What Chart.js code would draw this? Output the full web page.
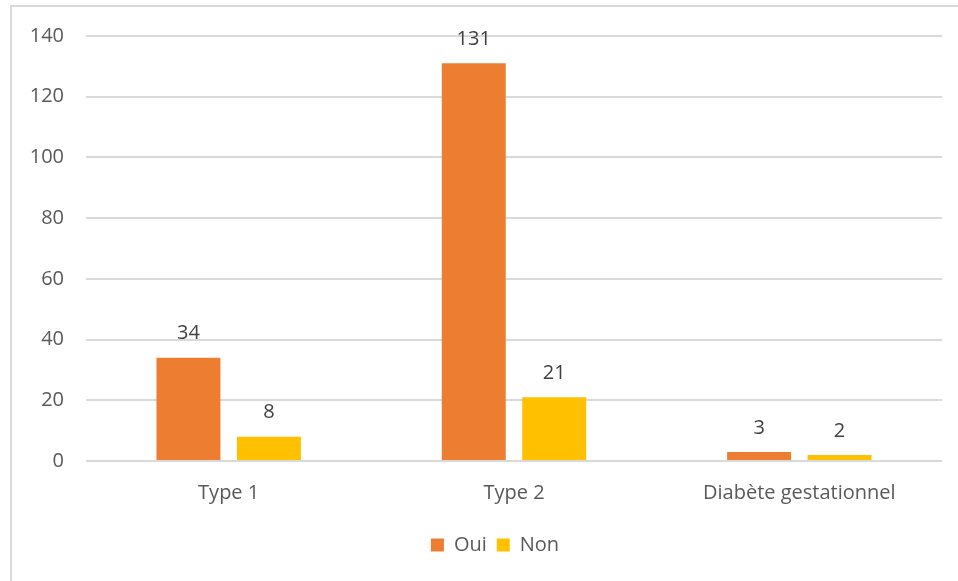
<!DOCTYPE html>
<html>
<head>
<meta charset="utf-8">
<script src="https://cdn.jsdelivr.net/npm/chart.js@4"></script>
<style>
  html, body { margin: 0; padding: 0; background: #fff; }
  #frame {
    position: absolute; left: 10px; top: 5px;
    width: 946px; height: 574px;
    border-left: 2px solid #d9d9d9;
    border-top: 2px solid #d9d9d9;
  }
  canvas { display: block; }
</style>
</head>
<body>
<div id="frame"><canvas id="chart" width="946" height="574"></canvas></div>
<script>
const categories = ["Type 1", "Type 2", "Diabète gestationnel"]
const oui = [34, 131, 3]
const non = [8, 21, 2]
const yMax = 140
const yStep = 20

const FONT = "'Open Sans', sans-serif"
const textColor = "#595959"

// value labels above each bar
const barValues = {
  id: "barValues",
  afterDatasetsDraw(chart) {
    const ctx = chart.ctx
    ctx.save()
    ctx.font = "20px " + FONT
    ctx.fillStyle = "#404040"
    ctx.textAlign = "center"
    ctx.textBaseline = "middle"
    chart.data.datasets.forEach((ds, i) => {
      chart.getDatasetMeta(i).data.forEach((bar, j) => {
        ctx.fillText(String(ds.data[j]), bar.x, bar.y - 24)
      })
    })
    ctx.restore()
  }
}

// nudge the legend so it sits under the plot area rather than the canvas
const legendShift = {
  id: "legendShift",
  afterLayout(chart) {
    if (chart.legend) {
      chart.legend.left += 18
      chart.legend.right += 18
    }
  }
}

new Chart(document.getElementById("chart"), {
  type: "bar",
  data: {
    labels: categories,
    datasets: [
      { label: "Oui", data: oui, backgroundColor: "#ED7D31", borderWidth: 0 },
      { label: "Non", data: non, backgroundColor: "#FFC000", borderWidth: 0 }
    ]
  },
  options: {
    responsive: false,
    animation: false,
    categoryPercentage: 0.564,
    barPercentage: 0.795,
    layout: { padding: { top: 29, right: 16, left: 0, bottom: 16 } },
    plugins: {
      legend: {
        position: "bottom",
        labels: {
          boxWidth: 13,
          boxHeight: 13,
          padding: 10,
          color: textColor,
          font: { family: FONT, size: 20 }
        }
      },
      tooltip: { enabled: false }
    },
    scales: {
      x: {
        grid: { display: false, drawTicks: false },
        border: { display: false },
        ticks: { color: textColor, font: { family: FONT, size: 20 }, padding: 20 },
        afterFit: (scale) => { scale.height = 64 }
      },
      y: {
        min: 0,
        max: yMax,
        grid: { color: "#d9d9d9", lineWidth: 2, drawTicks: false },
        border: { display: false },
        ticks: { stepSize: yStep, color: textColor, font: { family: FONT, size: 20 }, padding: 22 },
        afterFit: (scale) => {
          scale.width = 74
          scale.paddingTop = 0
          scale.paddingBottom = 0
        }
      }
    }
  },
  plugins: [barValues, legendShift]
})
</script>
</body>
</html>
